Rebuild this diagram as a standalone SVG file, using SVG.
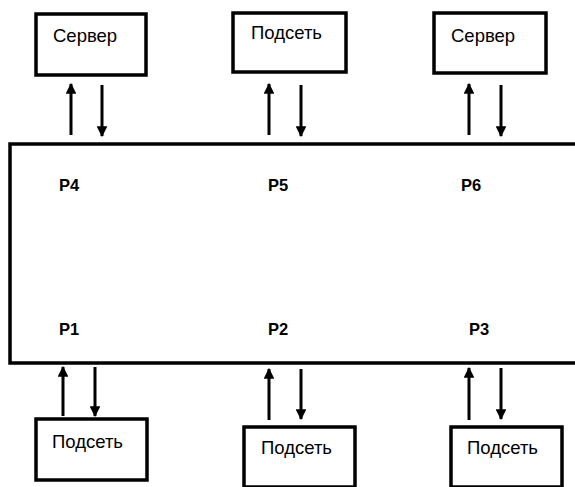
<svg xmlns="http://www.w3.org/2000/svg" width="575" height="487" viewBox="0 0 575 487">
<defs>
<style>
.box{fill:#fff;stroke:#000;stroke-width:3.5}
.lbl{font-family:"Liberation Sans",Arial,sans-serif;font-size:18.5px;fill:#000}
.port{font-family:"Liberation Sans",Arial,sans-serif;font-size:16.5px;font-weight:bold;fill:#000}
.ar{stroke:#000;stroke-width:3;fill:none;marker-end:url(#ah)}
</style>
<marker id="ah" viewBox="0 0 10 10" refX="9" refY="5" markerWidth="3.6" markerHeight="3.6" orient="auto" markerUnits="strokeWidth">
<path d="M0,0 L10,5 L0,10 z" fill="#000"/>
</marker>
</defs>
<g id="switch">
<rect class="box" x="10" y="144" width="570" height="219"/>
<text class="port" x="59" y="191">P4</text>
<text class="port" x="268" y="191">P5</text>
<text class="port" x="461" y="191">P6</text>
<text class="port" x="59" y="335">P1</text>
<text class="port" x="268" y="335">P2</text>
<text class="port" x="469" y="335">P3</text>
</g>
<g id="server1"><rect class="box" x="36" y="14" width="110" height="61"/><text class="lbl" x="53" y="42">Сервер</text></g>
<g id="subnet-top"><rect class="box" x="233" y="13" width="113" height="59"/><text class="lbl" x="251" y="39">Подсеть</text></g>
<g id="server2"><rect class="box" x="434" y="13" width="112" height="60"/><text class="lbl" x="451" y="42">Сервер</text></g>
<g id="subnet1"><rect class="box" x="36" y="419" width="111" height="61"/><text class="lbl" x="52" y="448">Подсеть</text></g>
<g id="subnet2"><rect class="box" x="244" y="427" width="111" height="60"/><text class="lbl" x="261" y="454">Подсеть</text></g>
<g id="subnet3"><rect class="box" x="451" y="427" width="111" height="60"/><text class="lbl" x="467" y="454">Подсеть</text></g>
<g id="connectors">
<line class="ar" x1="71" y1="135" x2="71" y2="84"/>
<line class="ar" x1="102" y1="85" x2="102" y2="136"/>
<line class="ar" x1="269" y1="135" x2="269" y2="84"/>
<line class="ar" x1="301" y1="85" x2="301" y2="136"/>
<line class="ar" x1="469" y1="135" x2="469" y2="84"/>
<line class="ar" x1="501" y1="85" x2="501" y2="136"/>
<line class="ar" x1="63" y1="416" x2="63" y2="367"/>
<line class="ar" x1="95" y1="367" x2="95" y2="416"/>
<line class="ar" x1="269" y1="420" x2="269" y2="369"/>
<line class="ar" x1="301" y1="369" x2="301" y2="419"/>
<line class="ar" x1="469" y1="420" x2="469" y2="368"/>
<line class="ar" x1="501" y1="368" x2="501" y2="419"/>
</g>
</svg>
